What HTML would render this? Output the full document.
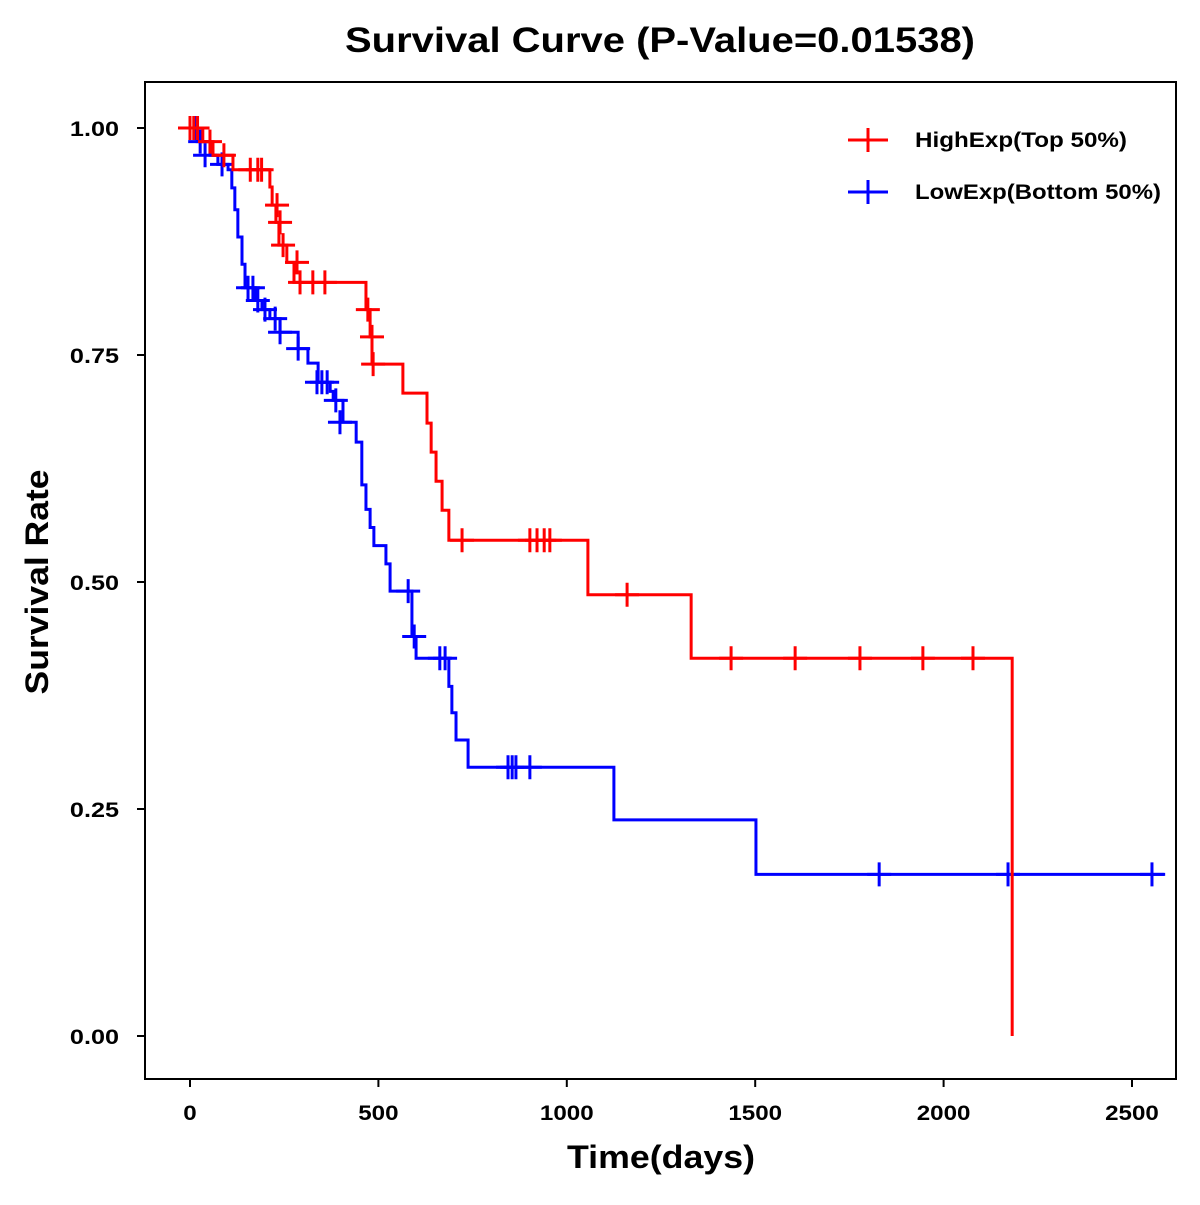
<!DOCTYPE html>
<html><head><meta charset="utf-8"><style>
body{margin:0;background:#fff;}
text{font-family:"Liberation Sans",Arial,sans-serif;font-weight:bold;fill:#000;}
</style></head><body>
<svg id="chart" width="1200" height="1200" xmlns="http://www.w3.org/2000/svg">
<text x="660" y="52" font-size="35" text-anchor="middle" textLength="630" lengthAdjust="spacingAndGlyphs">Survival Curve (P-Value=0.01538)</text>
<rect x="145" y="82" width="1031" height="997" fill="none" stroke="#000" stroke-width="2"/>
<g id="xaxis"></g>
<g id="yaxis"></g>
<text x="661" y="1168" font-size="32" text-anchor="middle" textLength="188" lengthAdjust="spacingAndGlyphs">Time(days)</text>
<text transform="translate(48,582) rotate(-90)" font-size="32" text-anchor="middle" textLength="225" lengthAdjust="spacingAndGlyphs">Survival Rate</text>
<g id="series"></g>
<g>
<g>
<line x1="848" y1="140" x2="888" y2="140" stroke="#f00" stroke-width="3"/><line x1="868" y1="128" x2="868" y2="152" stroke="#f00" stroke-width="3"/>
<text x="915" y="147" font-size="21" textLength="212" lengthAdjust="spacingAndGlyphs">HighExp(Top 50%)</text></g>
<g>
<line x1="848" y1="192" x2="888" y2="192" stroke="#00f" stroke-width="3"/><line x1="868" y1="180" x2="868" y2="204" stroke="#00f" stroke-width="3"/>
<text x="915" y="199" font-size="21" textLength="246" lengthAdjust="spacingAndGlyphs">LowExp(Bottom 50%)</text></g>
</g>
</svg>
<script>
const xTicks=[0,500,1000,1500,2000,2500];
const yTicks=[0,0.25,0.5,0.75,1.0];
const yTickLabels=["0.00","0.25","0.50","0.75","1.00"];
const highEventTimes=[34,61,114,212,218,228,236,257,276,467,478,483,565,629,640,653,669,687,1056,1330,2182];
const highEventSurv=[0.985,0.97,0.954,0.935,0.915,0.896,0.871,0.852,0.83,0.80,0.77,0.74,0.708,0.675,0.643,0.611,0.579,0.546,0.486,0.416,0.0];
const highEnd=2182;
const highCensorTimes=[0,10,20,53,90,160,180,190,231,239,247,284,292,326,358,472,483,486,722,902,921,940,955,1160,1436,1606,1778,1945,2078];
const highCensorSurv=[1,1,1,0.985,0.97,0.954,0.954,0.954,0.915,0.896,0.871,0.852,0.83,0.83,0.83,0.80,0.77,0.74,0.546,0.546,0.546,0.546,0.546,0.486,0.416,0.416,0.416,0.416,0.416];
const lowEventTimes=[19,53,74,101,111,119,127,138,146,173,191,212,239,287,313,340,372,380,406,441,456,467,478,488,520,531,589,600,687,695,706,738,1125,1502];
const lowEventSurv=[0.985,0.97,0.96,0.954,0.934,0.91,0.88,0.85,0.824,0.81,0.80,0.79,0.775,0.757,0.741,0.72,0.71,0.70,0.676,0.654,0.607,0.58,0.56,0.54,0.52,0.49,0.44,0.416,0.385,0.356,0.326,0.296,0.238,0.178];
const lowEnd=2588;
const lowCensorTimes=[0,13,27,40,85,154,167,180,199,226,239,287,337,350,364,387,398,579,595,663,677,844,855,865,902,1829,2171,2553];
const lowCensorSurv=[1,1,0.985,0.97,0.96,0.824,0.824,0.81,0.80,0.79,0.775,0.757,0.72,0.72,0.72,0.70,0.676,0.49,0.44,0.416,0.416,0.296,0.296,0.296,0.296,0.178,0.178,0.178];

const NS="http://www.w3.org/2000/svg";
const X=t=>190+t*(942/2500);
const Y=s=>1036-s*908;
function mk(tag,attrs,parent){const e=document.createElementNS(NS,tag);for(const k in attrs)e.setAttribute(k,attrs[k]);parent.appendChild(e);return e;}
function widen(t,k){const w=t.getComputedTextLength();t.setAttribute('textLength',w*k);t.setAttribute('lengthAdjust','spacingAndGlyphs');}
const xa=document.getElementById('xaxis'),ya=document.getElementById('yaxis');
xTicks.forEach(v=>{
  const l=mk('line',{x1:X(v),x2:X(v),y1:1079,y2:1087,stroke:'#000','stroke-width':2},xa);
  
  
  const t=mk('text',{x:X(v),y:1120,'font-size':21,'text-anchor':'middle'},xa);t.textContent=v;
  
  
  widen(t,1.15);
});
yTicks.forEach((v,i)=>{
  const l=mk('line',{x1:137,x2:145,y1:Y(v),y2:Y(v),stroke:'#000','stroke-width':2},ya);
  
  
  const t=mk('text',{x:119,y:Y(v)+8,'font-size':21,'text-anchor':'end'},ya);t.textContent=yTickLabels[i];
  
  
  widen(t,1.2);
});
const sg=document.getElementById('series');
function draw(times,surv,end,ct,cs,color,name){
  const g=mk('g',{},sg);
  
  
  let d='M'+X(0)+','+Y(1);
  times.forEach((t,i)=>{d+=' H'+X(t)+' V'+Y(surv[i]);});
  d+=' H'+X(end);
  const p=mk('path',{d:d,fill:'none',stroke:color,'stroke-width':3},g);
  
  
  ct.forEach((t,i)=>{
    const x=X(t),y=Y(cs[i]);
    const c=mk('path',{d:`M${x-12},${y} H${x+12} M${x},${y-12} V${y+12}`,stroke:color,'stroke-width':3,fill:'none'},g);
    
    
  });
}
draw(lowEventTimes,lowEventSurv,lowEnd,lowCensorTimes,lowCensorSurv,'#00f','low-exp');
draw(highEventTimes,highEventSurv,highEnd,highCensorTimes,highCensorSurv,'#f00','high-exp');
</script>
</body></html>
